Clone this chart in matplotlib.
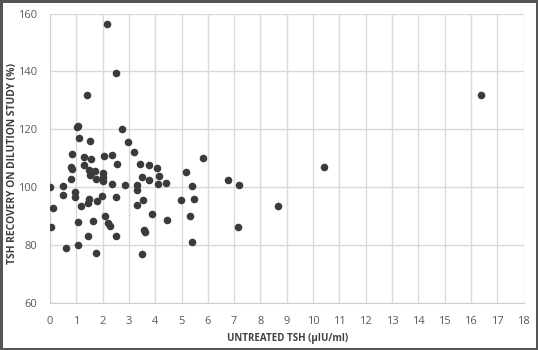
import matplotlib.pyplot as plt

# datos: TSH sin tratar vs recuperacion en dilucion
tsh_sin_tratar = [0.00, 0.04, 0.13, 0.48, 0.51, 0.60, 0.79, 0.81, 0.82, 0.82,
                  0.95, 0.95, 1.03, 1.08, 1.10, 1.07, 1.07, 1.17, 1.31, 1.31,
                  1.41, 1.46, 1.46, 1.49, 1.52, 1.52, 1.50, 1.56, 1.60, 1.65,
                  1.70, 1.75, 1.75, 1.80, 1.96, 2.03, 2.03, 2.03, 2.05, 2.09,
                  2.17, 2.22, 2.28, 2.35, 2.36, 2.50, 2.51, 2.51, 2.53, 2.75,
                  2.86, 2.98, 3.19, 3.30, 3.32, 3.32, 3.41, 3.49, 3.50, 3.52,
                  3.59, 3.60, 3.78, 3.78, 3.88, 4.06, 4.12, 4.16, 4.41, 4.44,
                  4.97, 5.16, 5.31, 5.41, 5.41, 5.48, 5.80, 6.77, 7.14, 7.19,
                  8.67, 10.42, 16.39]
recuperacion = [100.0, 86.1, 92.7, 97.3, 100.3, 79.0, 103.0, 107.0, 106.2, 111.3,
                98.4, 96.5, 120.7, 121.2, 117.1, 88.0, 80.0, 93.4, 110.4, 107.5,
                131.7, 94.6, 83.1, 106.0, 116.0, 104.3, 96.0, 109.7, 105.3, 88.4,
                105.6, 103.0, 77.3, 95.2, 97.0, 105.0, 103.6, 102.2, 110.7, 90.0,
                156.5, 87.6, 86.7, 101.0, 111.1, 96.7, 83.2, 139.3, 108.0, 120.0,
                100.9, 115.7, 112.0, 99.2, 100.8, 93.7, 108.0, 76.9, 103.6, 95.5,
                85.2, 84.4, 107.8, 102.4, 90.9, 106.8, 101.1, 103.9, 101.5, 88.6,
                95.5, 105.3, 89.9, 100.3, 81.1, 95.8, 110.0, 102.5, 86.3, 100.9,
                93.4, 106.9, 131.7]

x_ticks = list(range(0, 19))
y_ticks = [60, 80, 100, 120, 140, 160]

plt.rcParams['font.family'] = ['Open Sans', 'DejaVu Sans']

fig = plt.figure(figsize=(5.38, 3.5), dpi=100)
fig.patch.set_edgecolor("#555555")
fig.patch.set_linewidth(2.5)
ax = fig.add_axes([50 / 538, 1 - 303 / 350, 473.5 / 538, 289.5 / 350])

ax.scatter(tsh_sin_tratar, recuperacion, s=30, color="#3b3b3b", zorder=3, linewidths=0)

ax.set_xlim(0, 18)
ax.set_ylim(60, 160)
ax.set_xticks(x_ticks)
ax.set_yticks(y_ticks)
ax.grid(True, color="#d9d9d9", linewidth=1)
ax.set_axisbelow(True)
for lado in ["top", "right"]:
    ax.spines[lado].set_visible(False)
for lado in ["left", "bottom"]:
    ax.spines[lado].set_color("#d0d0d0")
ax.tick_params(length=0, labelsize=8, colors="#595959")
ax.tick_params(axis="y", pad=9)
ax.tick_params(axis="x", pad=9)

fig.text(13 / 538, 1 - 164 / 350, "TSH RECOVERY ON DILUTION STUDY (%)", rotation=90,
         ha="center", va="center", fontsize=7.4, fontweight="bold", color="#404040")
fig.text(288 / 538, 1 - 338 / 350, "UNTREATED TSH (µIU/ml)", ha="center", va="center",
         fontsize=7, fontweight="bold", color="#404040")

fig.savefig("out.png", dpi=100, edgecolor=fig.get_edgecolor())
